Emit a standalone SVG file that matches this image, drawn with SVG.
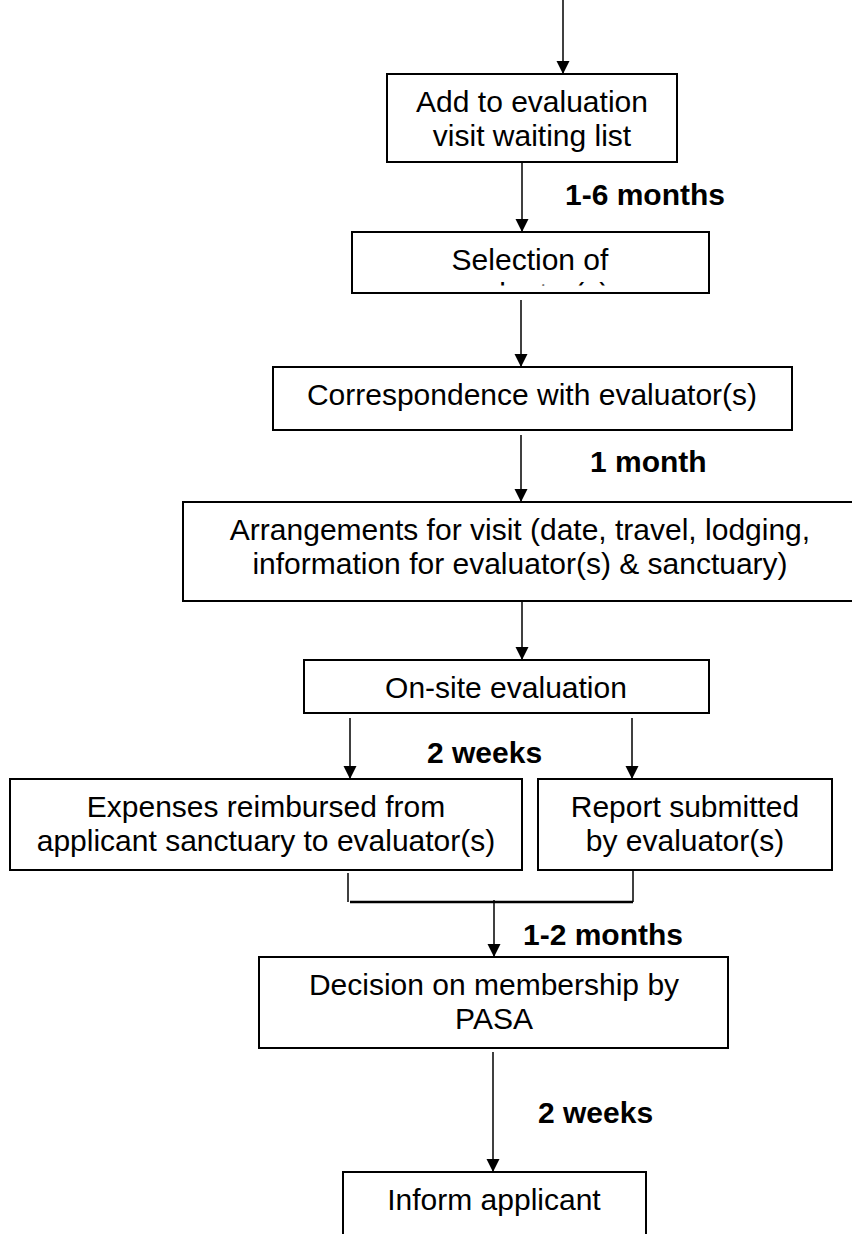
<svg xmlns="http://www.w3.org/2000/svg" width="852" height="1234" viewBox="0 0 852 1234">
<style>
.box{fill:#fff;stroke:#000;stroke-width:2}
.t{font-family:"Liberation Sans",Arial,sans-serif;font-size:30px;fill:#000;text-anchor:middle}
.lbl{font-family:"Liberation Sans",Arial,sans-serif;font-size:30px;font-weight:bold;fill:#000}
.ln{stroke:#000;stroke-width:1.5;fill:none}
.arr{stroke:#000;stroke-width:1.5;fill:none;marker-end:url(#ah)}
</style>
<defs>
<marker id="ah" markerUnits="userSpaceOnUse" markerWidth="13" markerHeight="14" refX="13" refY="6.5" orient="auto" viewBox="0 0 13 13">
<path d="M0,0 L13,6.5 L0,13 z" fill="#000"/>
</marker>
<clipPath id="selclip"><rect x="353" y="233" width="355" height="52.5"/></clipPath>
</defs>
<rect width="852" height="1234" fill="#fff"/>
<g id="connectors">
<line class="arr" x1="563" y1="0" x2="563" y2="74"/>
<line class="arr" x1="522" y1="163" x2="522" y2="232"/>
<line class="arr" x1="521" y1="300" x2="521" y2="367"/>
<line class="arr" x1="521" y1="435" x2="521" y2="502"/>
<line class="arr" x1="522" y1="593" x2="522" y2="660"/>
<line class="arr" x1="350" y1="718" x2="350" y2="779"/>
<line class="arr" x1="632" y1="718" x2="632" y2="779"/>
<line class="ln" x1="348" y1="873" x2="348" y2="902"/>
<line class="ln" x1="633" y1="870" x2="633" y2="902"/>
<line class="ln" x1="350" y1="902" x2="633" y2="902" style="stroke-width:2.5"/>
<line class="arr" x1="494" y1="900" x2="494" y2="957"/>
<line class="arr" x1="493" y1="1052" x2="493" y2="1172"/>
<text class="lbl" x="565" y="205">1-6 months</text>
<text class="lbl" x="590" y="472">1 month</text>
<text class="lbl" x="427" y="763">2 weeks</text>
<text class="lbl" x="523" y="945">1-2 months</text>
<text class="lbl" x="538" y="1123">2 weeks</text>
</g>
<g id="n1">
<rect class="box" x="387" y="74" width="290" height="88"/>
<text class="t" x="532" y="112">Add to evaluation</text>
<text class="t" x="532" y="146">visit waiting list</text>
</g>
<g id="n2">
<rect class="box" x="352" y="232" width="357" height="61"/>
<text class="t" x="530" y="270">Selection of</text>
<text class="t" x="530" y="304" clip-path="url(#selclip)">evaluator(s)</text>
</g>
<g id="n3">
<rect class="box" x="273" y="367" width="519" height="63"/>
<text class="t" x="532" y="405">Correspondence with evaluator(s)</text>
</g>
<g id="n4">
<rect class="box" x="183" y="502" width="680" height="99"/>
<text class="t" x="520" y="540">Arrangements for visit (date, travel, lodging,</text>
<text class="t" x="520" y="574">information for evaluator(s) &amp; sanctuary)</text>
</g>
<g id="n5">
<rect class="box" x="304" y="660" width="405" height="53"/>
<text class="t" x="506" y="698">On-site evaluation</text>
</g>
<g id="n6">
<rect class="box" x="10" y="779" width="512" height="91"/>
<text class="t" x="266" y="817">Expenses reimbursed from</text>
<text class="t" x="266" y="851">applicant sanctuary to evaluator(s)</text>
</g>
<g id="n7">
<rect class="box" x="538" y="779" width="294" height="91"/>
<text class="t" x="685" y="817">Report submitted</text>
<text class="t" x="685" y="851">by evaluator(s)</text>
</g>
<g id="n8">
<rect class="box" x="259" y="957" width="469" height="91"/>
<text class="t" x="494" y="995">Decision on membership by</text>
<text class="t" x="494" y="1029">PASA</text>
</g>
<g id="n9">
<rect class="box" x="343" y="1172" width="303" height="80"/>
<text class="t" x="494" y="1210">Inform applicant</text>
</g>
</svg>
